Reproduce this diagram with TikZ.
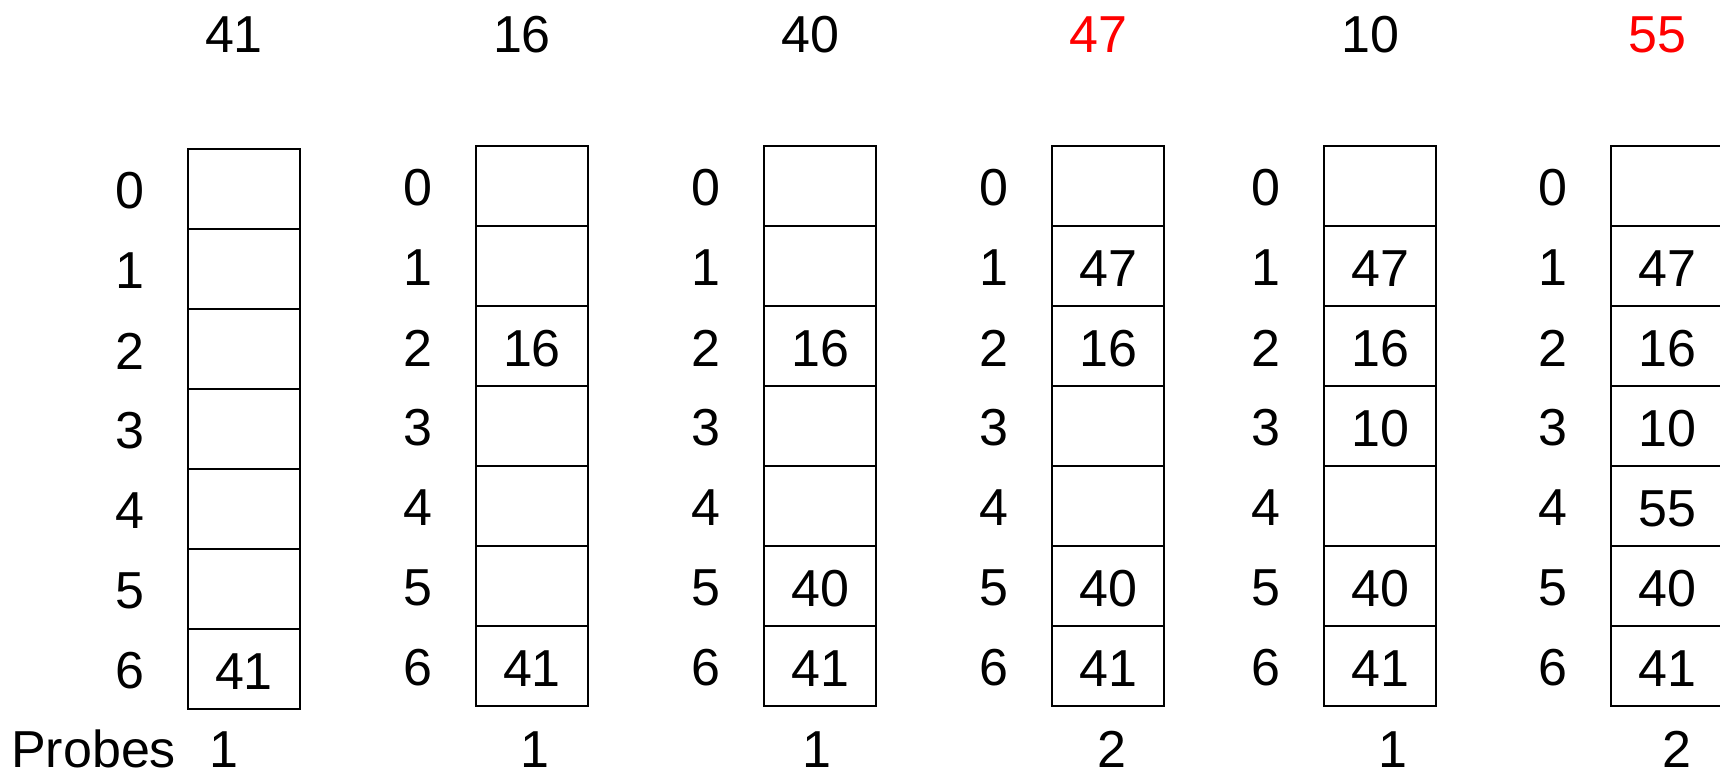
\documentclass[tikz,border=0pt]{standalone}
\usepackage{fontspec}
\setmainfont{Liberation Sans}
\newcommand\hashcol[7]{%
  \node[lbl,anchor=base] (h#1) at ({#2+47},53) {#4};
  \foreach \v [count=\r from 0] in {#7} {
    \node[cell] (c#1r\r) at (#2,{#3+80*\r}) {\v};
    \node[lbl] (i#1r\r) at ({#2-57},{#3+80*\r+43}) {\r};
  }
  \node[lbl,anchor=base] (p#1) at (#6,767) {#5};
}
\begin{document}
\begin{tikzpicture}[x=1pt,y=-1pt,
  lbl/.style={font=\fontsize{52}{60}\selectfont, inner sep=0pt},
  cell/.style={draw, line width=2pt, minimum width=112pt, minimum height=80pt,
    inner sep=0pt, anchor=north west, text height=41.5pt, text depth=0pt,
    font=\fontsize{52}{60}\selectfont}]
\useasboundingbox (0,0) rectangle (1720,775);
\clip (0,0) rectangle (1720,775);
\node[lbl,anchor=base west] (probes) at (11,767) {Probes};
\hashcol{1}{187}{148}{41}{1}{224}{{},{},{},{},{},{},41}
\hashcol{2}{475}{145}{16}{1}{535}{{},{},16,{},{},{},41}
\hashcol{3}{763}{145}{40}{1}{817}{{},{},16,{},{},40,41}
\hashcol{4}{1051}{145}{\textcolor{red}{47}}{2}{1112}{{},47,16,{},{},40,41}
\hashcol{5}{1323}{145}{10}{1}{1393}{{},47,16,10,{},40,41}
\hashcol{6}{1610}{145}{\textcolor{red}{55}}{2}{1677}{{},47,16,10,55,40,41}
\end{tikzpicture}
\end{document}
